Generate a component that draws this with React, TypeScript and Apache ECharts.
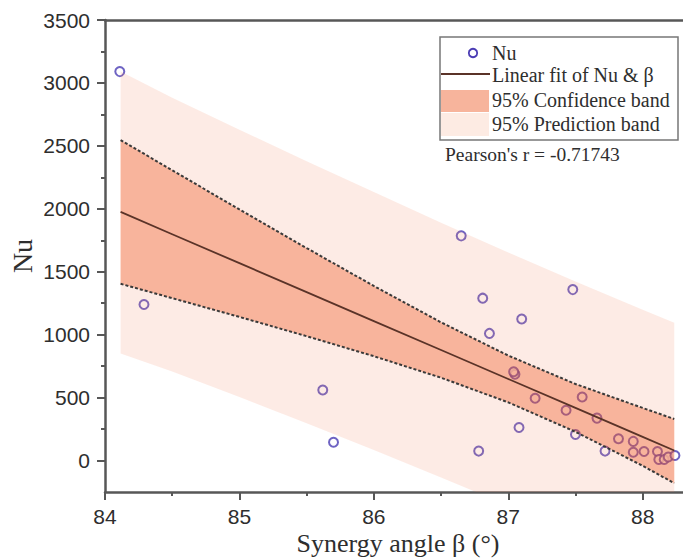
import React, { useEffect, useRef } from "react";
import * as echarts from "echarts";

// Scatter data: synergy angle β (°) vs Nu
const nuBeta = [84.11, 84.29, 85.62, 85.7, 86.65, 86.81, 86.86, 86.78, 87.05, 87.04, 87.1, 87.08, 87.2, 87.48, 87.43, 87.5, 87.55, 87.66, 87.72, 87.82, 87.93, 87.93, 88.01, 88.11, 88.12, 88.16, 88.19, 88.24];
const nuValues = [3090, 1240, 560, 145, 1785, 1290, 1010, 75, 685, 705, 1125, 262, 495, 1358, 400, 207, 505, 337, 75, 173, 152, 66, 72, 72, 8, 8, 28, 40];

// Fit and bands, read at these β positions
const bandBeta = [84.116, 84.5, 85, 85.5, 86, 86.5, 87, 87.5, 88, 88.235];
const fitValues = [1975, 1798, 1568, 1338, 1108, 878, 648, 418, 188, 80];
const confUpper = [2546, 2306, 1995, 1688, 1387, 1098, 834, 608, 418, 330];
const confLower = [1404, 1290, 1141, 988, 829, 658, 462, 228, -42, -180];
const predUpper = [3090, 2883, 2628, 2378, 2133, 1890, 1653, 1423, 1198, 1095];
const predLower = [850, 708, 505, 296, 83, -134, -357, -587, -822, -935];

const xMajorTicks = [84, 85, 86, 87, 88];
const xMinorTicks = [84.5, 85.5, 86.5, 87.5];
const yMajorTicks = [0, 500, 1000, 1500, 2000, 2500, 3000, 3500];
const yMinorTicks = [250, 750, 1250, 1750, 2250, 2750, 3250];

const legendLabels = ["Nu", "Linear fit of Nu & β", "95% Confidence band", "95% Prediction band"];
const pearsonText = "Pearson's r = -0.71743";

const SERIF = "'Liberation Serif', 'Times New Roman', serif";
const SANS = "'Liberation Sans', Arial, sans-serif";
const AXIS_COLOR = "#575757";
const TEXT_COLOR = "#2e2e2e";
const POINT_COLOR = "#4a3cb4";
const FIT_COLOR = "#5a3328";
const PRED_FILL = "rgba(240,130,95,0.16)";
const CONF_FILL = "rgba(237,78,20,0.35)";

function bandSeries(upper: number[], lower: number[], fill: string) {
  return {
    type: "custom",
    z: 2,
    silent: true,
    clip: true,
    data: bandBeta.map((b, i) => [b, lower[i], upper[i]]),
    encode: { x: 0, y: [1, 2] },
    renderItem: (params: any, api: any) => {
      if (params.dataIndex !== 0) return null;
      const pts: number[][] = [];
      for (let i = 0; i < bandBeta.length; i++) pts.push(api.coord([bandBeta[i], upper[i]]));
      for (let i = bandBeta.length - 1; i >= 0; i--) pts.push(api.coord([bandBeta[i], lower[i]]));
      const cs = params.coordSys;
      return {
        type: "polygon",
        shape: { points: pts },
        style: { fill, stroke: "none" },
        clipPath: { type: "rect", shape: { x: cs.x, y: cs.y, width: cs.width, height: cs.height } },
      };
    },
  };
}

export default function App() {
  const ref = useRef<HTMLDivElement>(null);
  useEffect(() => {
    if (!ref.current) return;
    const chart = echarts.init(ref.current, undefined, { renderer: "svg" });
    const axisLineStyle = { color: AXIS_COLOR, width: 2.5 };
    const tickLineStyle = { color: AXIS_COLOR, width: 2 };
    const xBase = { type: "value", min: 84, max: 88.3, splitLine: { show: false } };
    const yBase = { type: "value", min: -250, max: 3500, splitLine: { show: false } };
    const legendX = 492;
    const legendYs = [53, 75, 100, 124];
    chart.setOption({
      animation: false,
      backgroundColor: "#ffffff",
      grid: { left: 105, right: -3, top: 20, bottom: 67, containLabel: false },
      xAxis: [
        {
          ...xBase,
          position: "bottom",
          axisLine: { show: true, onZero: false, lineStyle: axisLineStyle },
          axisTick: { show: true, inside: false, length: 8, lineStyle: tickLineStyle, customValues: xMajorTicks },
          axisLabel: { show: true, customValues: xMajorTicks, formatter: (v: number) => String(v), fontSize: 21, color: TEXT_COLOR, margin: 14, fontFamily: SANS },
        },
        {
          ...xBase,
          position: "bottom",
          axisLine: { show: false, onZero: false },
          axisTick: { show: true, inside: false, length: 4, lineStyle: tickLineStyle, customValues: xMinorTicks },
          axisLabel: { show: false },
        },
        {
          ...xBase,
          position: "top",
          axisLine: { show: true, onZero: false, lineStyle: axisLineStyle },
          axisTick: { show: false },
          axisLabel: { show: false },
        },
      ],
      yAxis: [
        {
          ...yBase,
          position: "left",
          axisLine: { show: true, onZero: false, lineStyle: axisLineStyle },
          axisTick: { show: true, inside: false, length: 8, lineStyle: tickLineStyle, customValues: yMajorTicks },
          axisLabel: { show: true, customValues: yMajorTicks, formatter: (v: number) => String(v), fontSize: 21, color: TEXT_COLOR, margin: 15, fontFamily: SANS },
        },
        {
          ...yBase,
          position: "left",
          axisLine: { show: false, onZero: false },
          axisTick: { show: true, inside: false, length: 4, lineStyle: tickLineStyle, customValues: yMinorTicks },
          axisLabel: { show: false },
        },
      ],
      series: [
        {
          type: "scatter",
          name: "Nu",
          z: 1,
          symbol: "emptyCircle",
          symbolSize: 9,
          itemStyle: { color: POINT_COLOR, borderColor: POINT_COLOR, borderWidth: 1.8 },
          data: nuBeta.map((b, i) => [b, nuValues[i]]),
        },
        bandSeries(predUpper, predLower, PRED_FILL),
        bandSeries(confUpper, confLower, CONF_FILL),
        {
          type: "line",
          z: 3,
          symbol: "none",
          lineStyle: { color: "#3a3a3a", width: 2, type: [3, 2] },
          data: bandBeta.map((b, i) => [b, confUpper[i]]),
        },
        {
          type: "line",
          z: 3,
          symbol: "none",
          lineStyle: { color: "#3a3a3a", width: 2, type: [3, 2] },
          data: bandBeta.map((b, i) => [b, confLower[i]]),
        },
        {
          type: "line",
          name: "Linear fit of Nu & β",
          z: 4,
          symbol: "none",
          lineStyle: { color: FIT_COLOR, width: 1.8 },
          data: bandBeta.map((b, i) => [b, fitValues[i]]),
        },
      ],
      graphic: [
        {
          type: "text",
          x: 22,
          y: 256,
          rotation: Math.PI / 2,
          style: { text: "Nu", fontSize: 28, fontFamily: SERIF, fill: TEXT_COLOR, align: "center", verticalAlign: "middle" },
        },
        {
          type: "text",
          x: 398,
          y: 543,
          style: { text: "Synergy angle β (°)", fontSize: 26, fontFamily: SERIF, fill: TEXT_COLOR, align: "center", verticalAlign: "middle" },
        },
        {
          type: "rect",
          shape: { x: 440, y: 37, width: 238, height: 103 },
          style: { fill: "#ffffff", stroke: "#777777", lineWidth: 1.5 },
          z: 10,
        },
        {
          type: "circle",
          shape: { cx: 473, cy: 53, r: 4.2 },
          style: { fill: "none", stroke: POINT_COLOR, lineWidth: 1.8 },
          z: 11,
        },
        {
          type: "line",
          shape: { x1: 441, y1: 74, x2: 490, y2: 74 },
          style: { stroke: FIT_COLOR, lineWidth: 2 },
          z: 11,
        },
        {
          type: "rect",
          shape: { x: 441, y: 90, width: 48, height: 22 },
          style: { fill: "#f7b49c" },
          z: 11,
        },
        {
          type: "rect",
          shape: { x: 441, y: 113, width: 48, height: 23 },
          style: { fill: "#fdebe3" },
          z: 11,
        },
        ...legendLabels.map((t, i) => ({
          type: "text",
          x: legendX,
          y: legendYs[i],
          z: 11,
          style: { text: t, fontSize: 20, fontFamily: SERIF, fill: TEXT_COLOR, align: "left", verticalAlign: "middle" },
        })),
        {
          type: "text",
          x: 445,
          y: 154,
          z: 11,
          style: { text: pearsonText, fontSize: 19.5, fontFamily: SERIF, fill: TEXT_COLOR, align: "left", verticalAlign: "middle" },
        },
      ],
    });
    return () => chart.dispose();
  }, []);
  return <div ref={ref} style={{ position: "absolute", left: 0, top: 0, width: 683, height: 559 }} />;
}
